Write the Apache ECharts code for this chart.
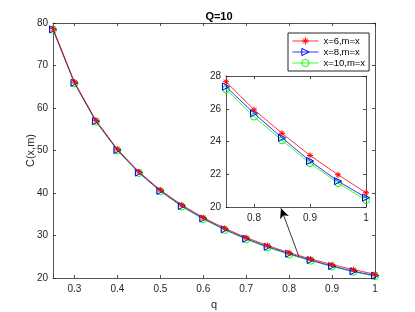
<!DOCTYPE html>
<html><head><meta charset="utf-8">
<script src="https://cdn.jsdelivr.net/npm/echarts@6/dist/echarts.min.js"></script>
<style>html,body{margin:0;padding:0;background:#fff}#c{width:415px;height:312px}</style>
</head><body><div id="c"></div>
<script>
const q = [0.25,0.3,0.35,0.4,0.45,0.5,0.55,0.6,0.65,0.7,0.75,0.8,0.85,0.9,0.95,1];
const x6 = [78.7,66.1,57.1,50.3,45.0,40.7,37.2,34.2,31.7,29.5,27.65,25.94,24.50,23.15,21.97,20.87];
const x8 = [78.5,65.9,56.9,50.1,44.8,40.5,36.95,34.0,31.45,29.25,27.35,25.72,24.23,22.81,21.58,20.57];
const x10 = [78.4,65.8,56.8,50.0,44.7,40.4,36.8,33.85,31.3,29.1,27.19,25.52,24.07,22.68,21.46,20.42];
const names = ['x=6,m=x','x=8,m=x','x=10,m=x'];
const mainXTicks = [0.3,0.4,0.5,0.6,0.7,0.8,0.9,1];
const insetXTicks = [0.8,0.9,1];
const arrowFrom = [0.823,25.0], arrowTo = [0.781,36.4];

const AX = '#262626';
const FONT = 'Liberation Sans';
const star = 'path://M0,5L10,5M5,0L5,10M1.5,1.5L8.5,8.5M8.5,1.5L1.5,8.5';
const tri = 'path://M0,0L10,5L0,10Z';
const cols = ['#ff0000','#0000ff','#00ff00'];
const syms = [star, tri, 'circle'];
const sizes = [6,7,7];
const vals = [x6,x8,x10];

function xAx(grid, min, max, ticks, pos, labels){
  return {type:'value', gridIndex:grid, min:min, max:max, position:pos,
    axisLine:{show:true,onZero:false,lineStyle:{color:AX,width:0.8}},
    axisTick:{show:true,inside:true,length:3,customValues:ticks,lineStyle:{color:AX,width:0.8}},
    axisLabel:{show:labels,customValues:ticks,color:AX,fontSize:10,fontFamily:FONT,margin:6},
    splitLine:{show:false}, z:3};
}
function yAx(grid, min, max, interval, pos, labels){
  return {type:'value', gridIndex:grid, min:min, max:max, interval:interval, position:pos,
    axisLine:{show:true,onZero:false,lineStyle:{color:AX,width:0.8}},
    axisTick:{show:true,inside:true,length:3,lineStyle:{color:AX,width:0.8}},
    axisLabel:{show:labels,color:AX,fontSize:10,fontFamily:FONT,margin:5},
    splitLine:{show:false}, z:3};
}

const xAxis = [
  Object.assign(xAx(0,0.25,1,mainXTicks,'bottom',true),{name:'q',nameLocation:'middle',nameGap:21,nameMoveOverlap:false,nameTextStyle:{color:AX,fontSize:11,fontFamily:FONT}}),
  xAx(0,0.25,1,mainXTicks,'top',false),
  xAx(1,0.75,1,insetXTicks,'bottom',true),
  xAx(1,0.75,1,insetXTicks,'top',false)
];
const yAxis = [
  Object.assign(yAx(0,20,80,10,'left',true),{name:'C(x,m)',nameLocation:'middle',nameGap:17,nameMoveOverlap:false,nameTextStyle:{color:AX,fontSize:11,fontFamily:FONT}}),
  yAx(0,20,80,10,'right',false),
  yAx(1,20,28,2,'left',true),
  yAx(1,20,28,2,'right',false)
];

const series = [];
[0,2].forEach(function(g, gi){
  vals.forEach(function(v,i){
    const s = {type:'line', name:names[i], xAxisIndex:g, yAxisIndex:g,
      data:q.map(function(x,k){return [x,v[k]];}),
      symbol:syms[i], symbolSize:sizes[i], symbolKeepAspect:true, showAllSymbol:true,
      clip:true, z: 10-i,
      lineStyle:{color:cols[i],width:0.8},
      itemStyle:{color:'rgba(0,0,0,0)',borderColor:cols[i],borderWidth:1},
      emphasis:{disabled:true}, animation:false};
    if(gi===0 && i===0){
      s.markLine = {silent:true, symbol:['none','arrow'], symbolSize:[7,10],
        label:{show:false}, lineStyle:{color:'#000',width:0.8,type:'solid'},
        data:[[{coord:arrowFrom},{coord:arrowTo}]], animation:false};
    }
    series.push(s);
  });
});

const legendData = names.map(function(n,i){
  return {name:n,
    itemStyle:{color:'rgba(0,0,0,0)',borderColor:cols[i],borderWidth:1},
    lineStyle:{color:cols[i],width:0.8}};
});

const chart = echarts.init(document.getElementById('c'), null, {renderer:'canvas'});
chart.setOption({
  animation:false,
  backgroundColor:'#fff',
  title:{text:'Q=10', left:214, top:6, textAlign:'center',
    textStyle:{fontSize:11,fontWeight:'bold',color:'#000',fontFamily:FONT}},
  grid:[
    {left:53, right:40, top:23, bottom:34, show:true, backgroundColor:'#fff', borderWidth:0, outerBoundsMode:'none'},
    {left:226, right:49, top:76, bottom:105, show:true, backgroundColor:'#fff', borderWidth:0, outerBoundsMode:'none'}
  ],
  legend:{data:legendData, orient:'vertical', left:288, top:33, itemWidth:26, itemHeight:9, itemGap:1,
    padding:[3,4,3,4], backgroundColor:'#fff', borderColor:AX, borderWidth:1,
    textStyle:{fontSize:9.5,color:'#000',fontFamily:FONT}, selectedMode:false},
  xAxis:xAxis, yAxis:yAxis, series:series
});
</script></body></html>
